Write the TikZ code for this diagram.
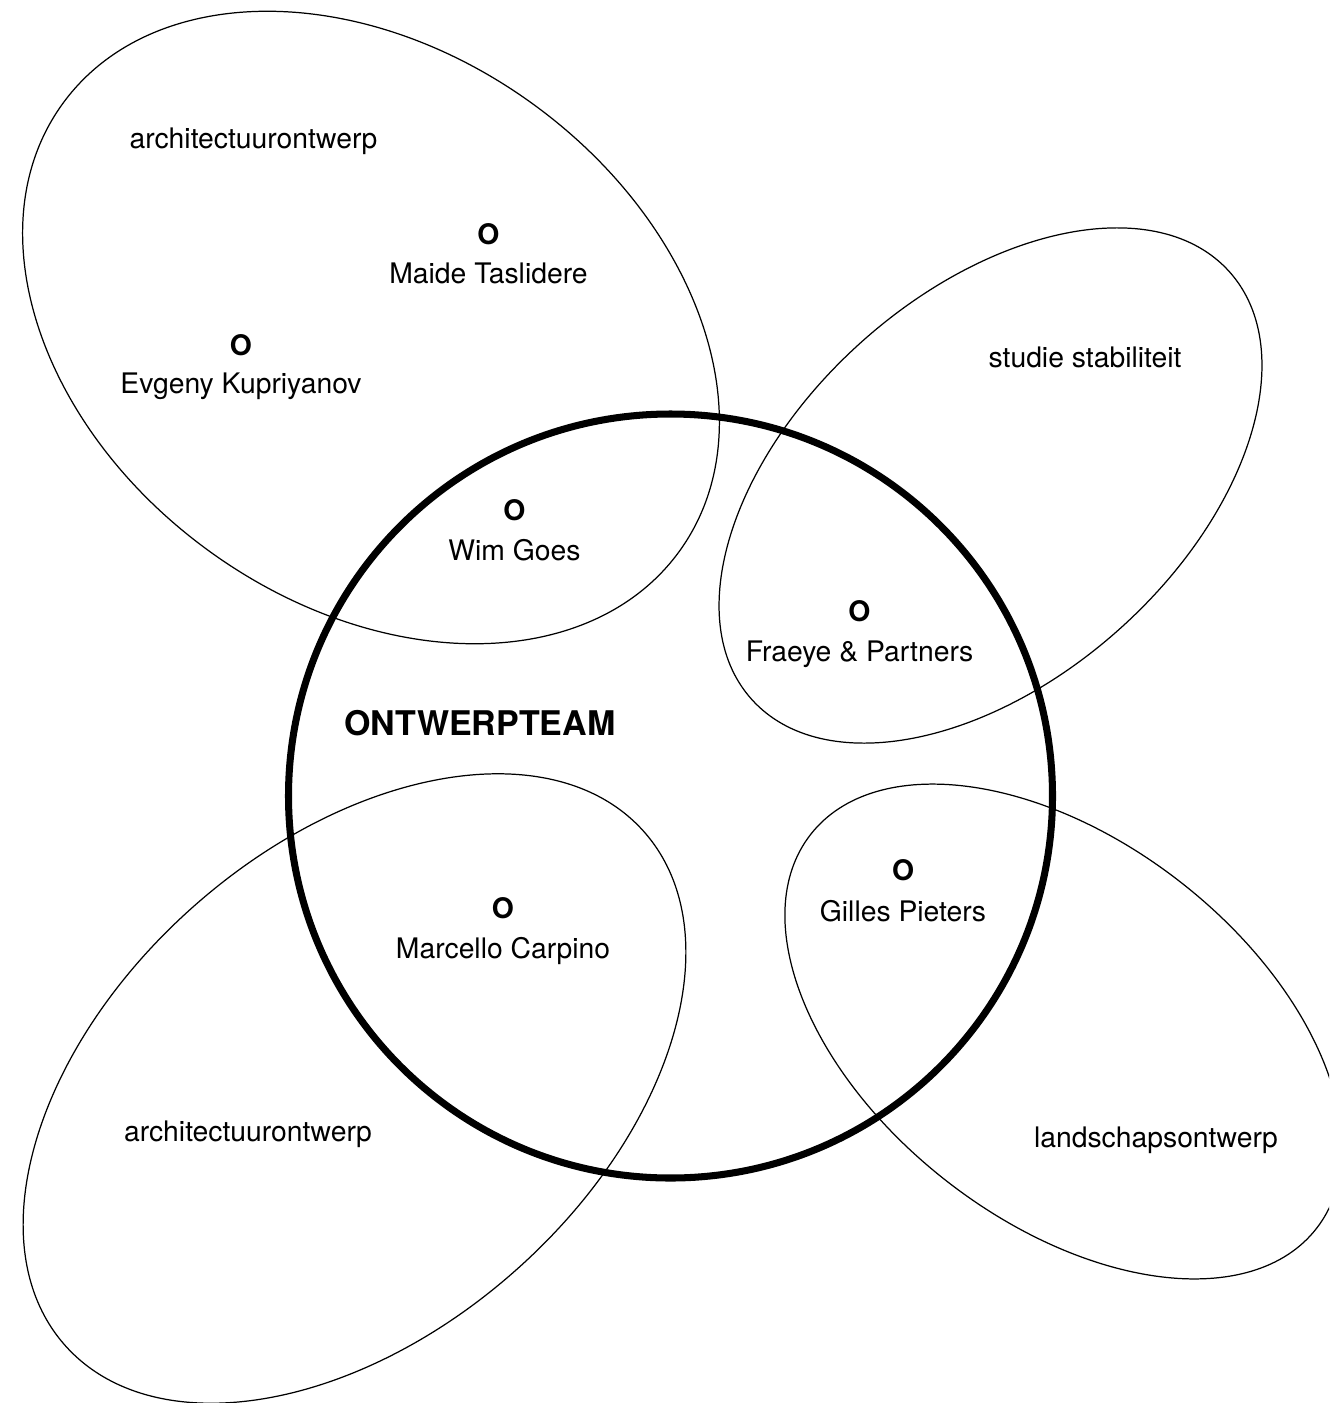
\documentclass[tikz,border=0pt]{standalone}
\usepackage{fontspec}
\setmainfont{TeX Gyre Heros}
\begin{document}
\begin{tikzpicture}[x=0.01cm,y=0.01cm,
  area/.style={draw=black, line width=0.35pt},
  team/.style={draw=black, line width=2pt},
  lbl/.style={anchor=base, inner sep=0pt, font=\fontsize{8.05pt}{9pt}\selectfont},
  dotlbl/.style={anchor=base, inner sep=0pt, font=\fontsize{8.05pt}{9pt}\selectfont\bfseries},
  titlelbl/.style={anchor=base, inner sep=0pt, font=\fontsize{9.67pt}{11pt}\selectfont\bfseries}]
\useasboundingbox (0,0) rectangle (1329,-1403);
\clip (0,0) rectangle (1329,-1403);
% group areas
\draw[area, rotate around={-36:(371,-327.5)}] (371,-327.5) ellipse [x radius=381, y radius=276];
\draw[area, rotate around={41.8:(990.5,-485.5)}] (990.5,-485.5) ellipse [x radius=320.6, y radius=193];
\draw[area, rotate around={41.6:(354.5,-1088.5)}] (354.5,-1088.5) ellipse [x radius=387, y radius=243];
\draw[area, rotate around={-37.9:(1063.5,-1031.5)}] (1063.5,-1031.5) ellipse [x radius=320.6, y radius=189.8];
% team circle
\draw[team] (670.5,-796) circle [radius=382];
% labels
\node[lbl] (arch1) at (253.5,-148) {architectuurontwerp};
\node[dotlbl] (o1) at (488.5,-244) {O};
\node[lbl] (maide) at (488.5,-283) {Maide Taslidere};
\node[dotlbl] (o2) at (241,-355) {O};
\node[lbl] (evgeny) at (241,-393.5) {Evgeny Kupriyanov};
\node[dotlbl] (o3) at (514.5,-520.6) {O};
\node[lbl] (wim) at (514.5,-560) {Wim Goes};
\node[lbl] (stab) at (1085,-367) {studie stabiliteit};
\node[dotlbl] (o4) at (859.5,-621.7) {O};
\node[lbl] (fraeye) at (859.5,-661.7) {Fraeye \& Partners};
\node[titlelbl] (team) at (480,-735) {ONTWERPTEAM};
\node[dotlbl] (o5) at (503,-918.7) {O};
\node[lbl] (marcello) at (503,-958) {Marcello Carpino};
\node[dotlbl] (o6) at (903,-880.7) {O};
\node[lbl] (gilles) at (903,-921) {Gilles Pieters};
\node[lbl] (arch2) at (248,-1141.5) {architectuurontwerp};
\node[lbl] (land) at (1156,-1147.3) {landschapsontwerp};
\end{tikzpicture}
\end{document}
